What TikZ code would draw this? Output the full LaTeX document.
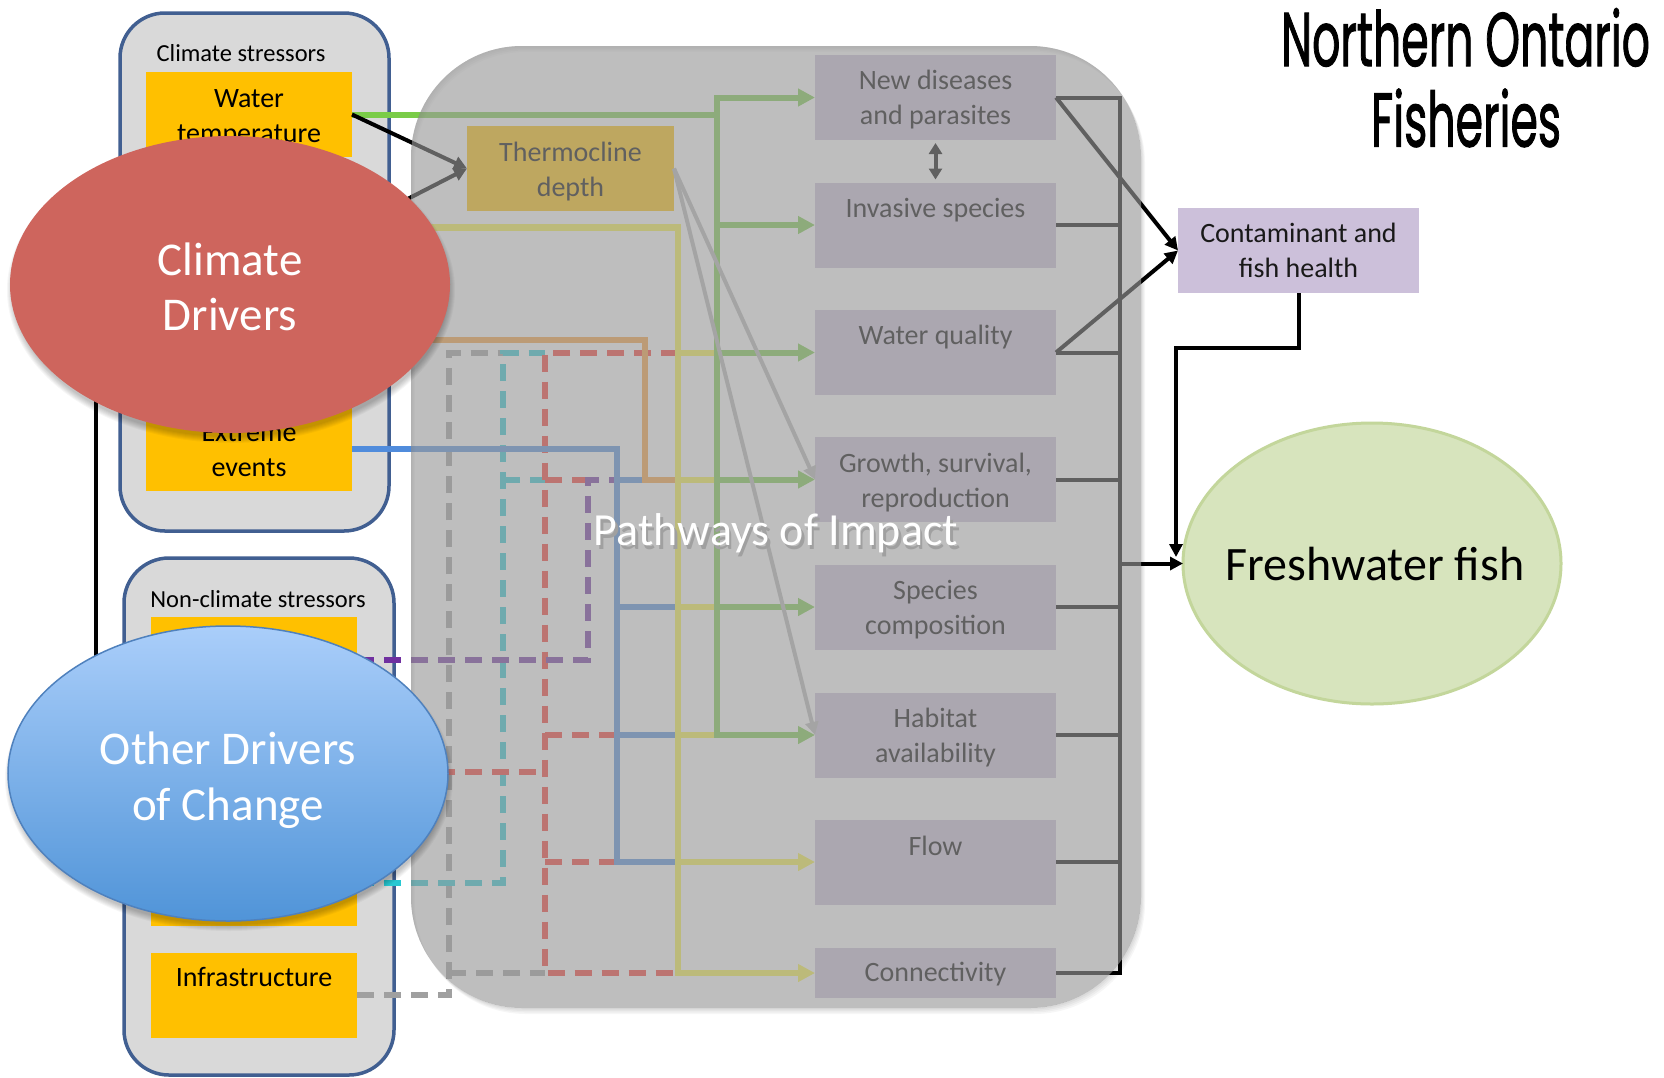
\documentclass[tikz,border=0pt]{standalone}
\usepackage{fontspec}
\usepackage{graphicx}
\setmainfont{Carlito}
\newfontfamily\titlefont{Poppins}[FakeBold=1.6]
\usetikzlibrary{arrows.meta,shapes.geometric}

\definecolor{stressfill}{RGB}{217,217,217}
\definecolor{stressline}{RGB}{65,95,145}
\definecolor{amber}{RGB}{255,192,0}
\definecolor{lav}{RGB}{204,192,218}
\definecolor{cgreen}{RGB}{122,204,72}
\definecolor{cyellow}{RGB}{250,245,70}
\definecolor{corange}{RGB}{250,160,60}
\definecolor{cblue}{RGB}{80,140,220}
\definecolor{cred}{RGB}{250,55,45}
\definecolor{cteal}{RGB}{40,200,210}
\definecolor{cpurple}{RGB}{112,48,160}
\definecolor{cgray}{RGB}{160,160,160}
\definecolor{tharrow}{RGB}{185,185,185}
\definecolor{veil}{RGB}{153,153,153}
\definecolor{titleshade}{RGB}{160,160,160}
\definecolor{climred}{RGB}{206,101,93}
\definecolor{othtop}{RGB}{170,206,250}
\definecolor{othbot}{RGB}{80,148,216}
\definecolor{othline}{RGB}{79,129,189}
\definecolor{fishfill}{RGB}{215,228,189}
\definecolor{fishline}{RGB}{195,214,155}

\tikzset{
  every node/.style={inner sep=0pt, outer sep=0pt},
  stressbox/.style={rectangle, draw=stressline, line width=3.5pt, fill=stressfill, rounded corners=45pt},
  ybox/.style={rectangle, fill=amber, minimum width=206pt, minimum height=85pt},
  ibox/.style={rectangle, fill=lav, minimum width=241pt, minimum height=85pt},
  btxt/.style={font=\fontsize{28}{34}\selectfont, text height=18pt, text depth=0pt},
  lbltxt/.style={font=\fontsize{24.5}{30}\selectfont, text height=15.7pt, text depth=0pt},
  bigtxt/.style={font=\fontsize{47}{56}\selectfont, text height=30pt, text depth=0pt, text=white},
  pline/.style={line width=6pt},
  dline/.style={line width=6pt, dash pattern=on 17pt off 10pt},
  arrowhd/.style={-{Triangle[length=17pt,width=17pt]}},
  blackline/.style={line width=4pt, black},
  linktip/.style={-{Triangle[length=13pt,width=13pt]}},
}

% white heading with a soft grey drop shadow behind it
\newcommand\shadedheading[1]{%
  \rlap{\kern2.5pt\raisebox{-3.5pt}{\textcolor{titleshade}{#1}}}#1}

\begin{document}
\begin{tikzpicture}[x=1pt,y=-1pt]
\useasboundingbox (0,0) rectangle (1664,1077);
\fill[white] (0,0) rectangle (1664,1077);

% trunk positions of the pathway network
\coordinate (kx) at (449,0);
\coordinate (tx) at (503,0);
\coordinate (rx) at (545,0);
\coordinate (px) at (588,0);
\coordinate (bx) at (617,0);
\coordinate (ox) at (645,0);
\coordinate (yx) at (678,0);
\coordinate (gx) at (717,0);
\coordinate (ux) at (1120,0);

% stressor frames
\node[stressbox, minimum width=269pt, minimum height=518pt] (cframe) at (254.5,272) {};
\node[stressbox, minimum width=270pt, minimum height=517pt] (nframe) at (259,816.5) {};
\node[lbltxt] (t-cs) at (241,54) {Climate stressors};
\node[lbltxt] (t-ns) at (258,600) {Non-climate stressors};

% stressor boxes
\node[ybox] (wt)  at (249,114.5) {};
\node[ybox] (cs2) at (249,227.5) {};
\node[ybox] (cs3) at (249,339.5) {};
\node[ybox] (ee)  at (249,448.5) {};
\node[ybox] (ns1) at (254,659.5) {};
\node[ybox] (ns2) at (254,772) {};
\node[ybox] (ns3) at (254,883) {};
\node[ybox] (inf) at (254,995) {};
\node[btxt] (t-wt1) at (249,98) {Water};
\node[btxt] (t-wt2) at (249,133) {temperature};
\node[btxt] (t-ee1) at (249,432) {Extreme};
\node[btxt] (t-ee2) at (249,467) {events};
\node[btxt] (t-inf) at (254,977) {Infrastructure};

% thermocline and impact boxes
\node[rectangle, fill=amber, minimum width=207pt, minimum height=85pt] (therm) at (570.5,168.5) {};
\node[btxt] (t-th1) at (570.5,152) {Thermocline};
\node[btxt] (t-th2) at (570.5,187) {depth};

\node[ibox] (nd)  at (935.5,97.5) {};
\node[ibox] (inv) at (935.5,225) {};
\node[ibox] (wq)  at (935.5,352.5) {};
\node[ibox] (gro) at (935.5,479.5) {};
\node[ibox] (spc) at (935.5,607) {};
\node[ibox] (hab) at (935.5,735) {};
\node[ibox] (flw) at (935.5,862) {};
\node[ibox, minimum height=50pt] (con) at (935.5,973) {};

\node[btxt] (t-nd1) at (935.5,80) {New diseases};
\node[btxt] (t-nd2) at (935.5,115) {and parasites};
\node[btxt] (t-inv) at (935.5,208) {Invasive species};
\node[btxt] (t-wq)  at (935.5,335) {Water quality};
\node[btxt] (t-gr1) at (935.5,463) {Growth, survival,};
\node[btxt] (t-gr2) at (935.5,498) {reproduction};
\node[btxt] (t-sp1) at (935.5,590) {Species};
\node[btxt] (t-sp2) at (935.5,625) {composition};
\node[btxt] (t-hb1) at (935.5,718) {Habitat};
\node[btxt] (t-hb2) at (935.5,753) {availability};
\node[btxt] (t-fl)  at (935.5,846) {Flow};
\node[btxt] (t-cn)  at (935.5,972) {Connectivity};

% link between the two stressor groups
\coordinate (lk1) at (95.5,395);
\coordinate (lk2) at (95.5,665);
\draw[blackline] (lk1) -- (lk2);

% gray dashed (infrastructure)
\draw[dline, cgray] (inf.east) -| (kx |- wq.west) -- (tx |- wq.west);
\draw[dline, cgray] (kx |- con.west) -- (rx |- con.west);
% teal dashed
\draw[dline, cteal] (ns3.east) -| (tx |- wq.west) -- (rx |- wq.west);
\draw[dline, cteal] (tx |- gro.west) -- (rx |- gro.west);
% red dashed
\draw[dline, cred] (yx |- wq.west) -| (rx |- con.west) -- (yx |- con.west);
\draw[dline, cred] (ns2.east) -- (rx |- ns2.east);
\draw[dline, cred] (rx |- gro.west) -- (px |- gro.west);
\foreach \b in {hab,flw} \draw[dline, cred] (rx |- \b.west) -- (bx |- \b.west);
% purple dashed
\draw[dline, cpurple] (ns1.east) -| (px |- gro.west) -- (bx |- gro.west);
% blue (extreme events)
\draw[pline, cblue] (ee.east) -| (bx |- flw.west) -- (yx |- flw.west);
\draw[pline, cblue] (bx |- gro.west) -- (ox |- gro.west);
\foreach \b in {spc,hab} \draw[pline, cblue] (bx |- \b.west) -- (yx |- \b.west);
% orange
\draw[pline, corange] (cs3.east) -| (ox |- gro.west) -- (yx |- gro.west);
% yellow
\draw[pline, line width=6.5pt, cyellow, arrowhd] (cs2.east) -| (yx |- con.west) -- (con.west);
\draw[pline, cyellow, arrowhd] (yx |- flw.west) -- (flw.west);
\foreach \b in {wq,gro,spc,hab} \draw[pline, cyellow] (yx |- \b.west) -- (gx |- \b.west);
% green (water temperature)
\draw[pline, cgreen, arrowhd] (wt.east) -| (gx |- hab.west) -- (hab.west);
\draw[pline, cgreen, arrowhd] (gx |- wt.east) |- (nd.west);
\foreach \b in {inv,wq,gro,spc} \draw[pline, cgreen, arrowhd] (gx |- \b.west) -- (\b.west);

% thermocline links
\draw[blackline, linktip] (wt.east) -- (therm.west);
\draw[blackline, linktip] (cs2.east) -- (therm.west);
\draw[line width=4pt, tharrow, linktip] (therm.east) -- (gro.west);
\draw[line width=4pt, tharrow, linktip] (therm.east) -- (hab.west);

% outputs of the impact boxes
\node[ellipse, fill=fishfill, draw=fishline, line width=3pt, minimum width=378pt, minimum height=281pt] (fish) at (1372,563.5) {};
\node[rectangle, fill=lav, minimum width=241pt, minimum height=85pt] (cont) at (1298.5,250.5) {};
\coordinate (cf) at (1176,557);
\draw[blackline, {Triangle[length=11pt,width=13pt]}-{Triangle[length=11pt,width=13pt]}] ([yshift=-3pt]nd.south) -- ([yshift=3pt]inv.north);
\draw[blackline] (nd.east) -| (ux |- con.east) -- (con.east);
\foreach \b in {inv,wq,gro,spc,hab,flw} \draw[blackline] (\b.east) -- (ux |- \b.east);
\draw[blackline, linktip] (ux |- fish.west) -- (fish.west);
\draw[blackline, linktip] (nd.east) -- (cont.west);
\draw[blackline, linktip] (wq.east) -- (cont.west);
\draw[blackline, linktip] (cont.south) -- ++(0,55) -| (cf);

% translucent pathways panel with a faint lower-right shadow
\foreach \g in {1,2,3,4}
  \fill[black, opacity=0.035, even odd rule, rounded corners=111pt]
    (411+\g,46+1.5*\g) rectangle (1141+\g,1008+1.5*\g)
    (411,46) rectangle (1141,1008);
\node[rectangle, rounded corners=111pt, fill=veil, fill opacity=0.63, minimum width=730pt, minimum height=962pt] (panel) at (776,527) {};
\node[font=\fontsize{46}{55}\selectfont, text=white, text height=29pt, text depth=0pt] (pw) at (776,531) {\shadedheading{Pathways of Impact}};

\node[btxt, text=black!90] (t-ct1) at (1298.5,233) {Contaminant and};
\node[btxt, text=black!90] (t-ct2) at (1298.5,268) {fish health};
\node[font=\fontsize{48}{56}\selectfont, text height=31pt, text depth=0pt] (t-fish) at (1375,565) {Freshwater fish};

% driver ellipses with soft shadows
\foreach \g in {0,1,...,6}
  \fill[black, opacity=0.035] (231,290) ellipse [x radius={218+\g}, y radius={147+\g}];
\node[ellipse, fill=climred, minimum width=440pt, minimum height=297pt] (clim) at (230,284.5) {};
\node[bigtxt] (t-cl1) at (230,260) {Climate};
\node[bigtxt] (t-cl2) at (230,315) {Drivers};

\foreach \g in {0,1,...,6}
  \fill[black, opacity=0.035] (229,779) ellipse [x radius={218+\g}, y radius={146+\g}];
\node[ellipse, top color=othtop, bottom color=othbot, draw=othline, line width=1.5pt, minimum width=440pt, minimum height=295pt] (oth) at (228,773.5) {};
\node[bigtxt] (t-ot1) at (228,749) {Other Drivers};
\node[bigtxt] (t-ot2) at (228,805) {of Change};

% title
\node[anchor=base, font=\titlefont\fontsize{76}{80}\selectfont] (ttl1) at (1465.5,66) {\resizebox{369pt}{\height}{Northern Ontario}};
\node[anchor=base, font=\titlefont\fontsize{76}{80}\selectfont] (ttl2) at (1466,146.5) {\resizebox{190pt}{\height}{Fisheries}};
\end{tikzpicture}
\end{document}
